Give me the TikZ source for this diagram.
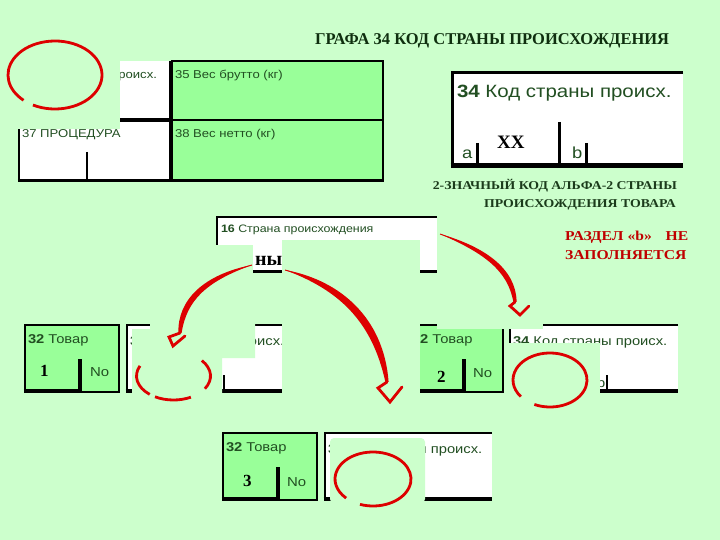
\documentclass[tikz,border=0pt]{standalone}
\usepackage{fontspec}
\setmainfont{Liberation Serif}
\newfontfamily\wsans[FakeStretch=1.15]{Liberation Sans}
\newfontfamily\wserif[FakeStretch=1.15]{Liberation Serif}
\usetikzlibrary{calc}
\definecolor{bggreen}{HTML}{CCFFCC}
\definecolor{boxgreen}{HTML}{99FF99}
\definecolor{boxtext}{HTML}{224F22}
\definecolor{titleink}{HTML}{0F2F0F}
\definecolor{capink}{HTML}{1B3B1B}
\definecolor{redtext}{HTML}{C00000}
\definecolor{arrowred}{HTML}{DD0000}
\newcommand{\pxs}[1]{\fontsize{#1}{#1}\selectfont}
\tikzset{
  lbl/.style={inner sep=0pt, outer sep=0pt, text=boxtext},
  lblS/.style={lbl, font=\wsans\pxs{11.4}},
  lblM/.style={lbl, font=\wsans\pxs{12.8}},
  lblL/.style={lbl, font=\wsans\pxs{17.8}},
  lblT/.style={lbl, font=\wsans\pxs{10.8}},
  digit/.style={inner sep=0pt, text=black, font=\bfseries\pxs{17}},
  nolbl/.style={lbl, font=\wsans\pxs{13}},
  cover/.style={fill=bggreen, draw=none},
  ellred/.style={draw=arrowred, line width=2.8pt},
  headred/.style={draw=arrowred, line width=2.8pt, line join=miter, line cap=round},
}
% small "34" box: name, x0, y0, width
\newcommand{\kodbox}[4]{%
  \fill[white] (#2,#3) rectangle ({#2+#4},{#3+67});
  \draw[line width=2.8pt] ({#2+#4},#3) -- (#2,#3) -- (#2,{#3+67});
  \draw[line width=4pt] ({#2-1.4},{#3+65.5}) -- ({#2+#4},{#3+65.5});
  \draw[line width=2.6pt] ({#2+17},{#3+50}) -- ({#2+17},{#3+66});
  \draw[line width=2.6pt] ({#2+77},{#3+35}) -- ({#2+77},{#3+66});
  \draw[line width=2.6pt] ({#2+97},{#3+50}) -- ({#2+97},{#3+66});
  \node[lblM, anchor=base west] (#1t) at ({#2+3},{#3+20}) {\textbf{34} Код страны происх.};
  \node[lblM, anchor=base west] (#1a) at ({#2+5},{#3+62}) {a};
  \node[lblM, anchor=base west] (#1b) at ({#2+87},{#3+62}) {b};
}
% green "32" box: name, x0, y0
\newcommand{\tovarbox}[3]{%
  \fill[boxgreen] (#2,#3) rectangle ({#2+94},{#3+67});
  \draw[line width=2.3pt] (#2,#3) rectangle ({#2+94},{#3+67});
  \draw[line width=3.6pt] ({#2-1.1},{#3+66}) -- ({#2+55},{#3+66});
  \draw[line width=3.3pt] ({#2+55},{#3+34}) -- ({#2+55},{#3+67.5});
  \node[lblM, anchor=base west] (#1t) at ({#2+3},{#3+18.3}) {\textbf{32} Товар};
}
% tapered red curve: S, C1, C2, E, w1, w2
\newcommand{\boltline}[6]{%
  \draw[arrowred, line width=0.9pt] (#1) .. controls (#2) and (#3) .. (#4);
  \fill[arrowred] (#1) .. controls ($(#2)!#5!90:(#1)$) and ($(#3)!#6!-90:(#4)$) .. ($(#4)!1.6pt!90:(#3)$)
     -- ($(#4)!1.6pt!-90:(#3)$) .. controls ($(#3)!#6!90:(#4)$) and ($(#2)!#5!-90:(#1)$) .. (#1) -- cycle;
}
\begin{document}
\begin{tikzpicture}[x=1pt,y=-1pt]
\useasboundingbox (0,0) rectangle (720,540);
\fill[bggreen] (0,0) rectangle (720,540);

% ---------- title ----------
\node[inner sep=0pt, anchor=base west, text=titleink, font=\bfseries\pxs{16.5}] (title) at (315,45)
  {ГРАФА 34 КОД СТРАНЫ ПРОИСХОЖДЕНИЯ};

% ---------- top-left form ----------
\fill[white] (19,61) rectangle (171,181);
\fill[boxgreen] (171,61) rectangle (383,181);
\draw[line width=2pt] (171,61) -- (383,61) -- (383,181);
\draw[line width=1.8pt] (171,120) -- (383,120);
\draw[line width=4.2pt] (19,120) -- (171,120);
\draw[line width=2.3pt] (19,61) -- (19,182);
\draw[line width=2pt] (87,152) -- (87,181);
\draw[line width=3.4pt] (17.85,180.5) -- (384,180.5);
\draw[line width=3.3pt] (171,61) -- (171,182);
\node[lblS, anchor=base east] (f34) at (157,79) {\textbf{34} Код страны происх.};
\node[lblS, anchor=base west] (f35) at (175,79) {35 Вес брутто (кг)};
\node[lblS, anchor=base west] (f37) at (22,138) {37 ПРОЦЕДУРА};
\node[lblS, anchor=base west] (f38) at (175,138) {38 Вес нетто (кг)};

% ---------- top-right box 34 ----------
\fill[white] (452,73) rectangle (683,167);
\draw[line width=3pt] (683,73) -- (452,73) -- (452,168);
\draw[line width=5pt] (450.5,166) -- (683,166);
\draw[line width=3pt] (477,143) -- (477,166) (559,122) -- (559,166) (586,143) -- (586,166);
\node[lblL, anchor=base west] (k34) at (457,98) {\textbf{34} Код страны происх.};
\node[lblL, anchor=base west, font=\wsans\pxs{16}] (ka) at (462,159) {a};
\node[lblL, anchor=base west, font=\wsans\pxs{16}] (kb) at (572,159) {b};
\node[inner sep=0pt, anchor=base west, font=\bfseries\pxs{19}] (xx) at (497,149) {XX};

% ---------- box 16 ----------
\fill[white] (217,217) rectangle (437,271);
\draw[line width=2.5pt] (437,217) -- (217,217) -- (217,271);
\draw[line width=3pt] (217,271) -- (437,271);
\node[lblT, anchor=base west] (t16) at (221,233) {\textbf{16} Страна происхождения};

% ---------- rows ----------
\tovarbox{b1}{25}{325}
\node[digit, anchor=base west] (d1) at (40,376.7) {1};
\node[nolbl, anchor=base west] (n1) at (90,376.7) {No};
\kodbox{k1}{127}{325}{168}

\tovarbox{b2}{409}{325}
\node[digit, anchor=base west] (d2) at (437,382.3) {2};
\node[nolbl, anchor=base west] (n2) at (473,377.3) {No};
\kodbox{k2}{510}{325}{168}

\tovarbox{b3}{223}{433}
\node[digit, anchor=base west] (d3) at (243,486) {3};
\node[nolbl, anchor=base west] (n3) at (287,486) {No};
\kodbox{k3}{325}{433}{167}

% ---------- covering patches ----------
\fill[cover] (0,30) rectangle (120,129.5);
\fill[cover] (213,245) rectangle (253,276);
\fill[cover] (282,240) rectangle (420,405);
\fill[cover] (150,318) -- (255,318) -- (255,358) -- (222,358) -- (222,400) -- (132,400) -- (132,329) -- (150,329) -- cycle;
\fill[cover] (437,318) rectangle (543,328.5);
\fill[cover] (505,343) rectangle (600,410);
\fill[cover, rounded corners=4pt] (330,438) rectangle (425,503);

% ---------- "ны" ----------
\node[inner sep=0pt, anchor=base west, font=\bfseries\pxs{20}] (ny) at (255,265) {ны};

% ---------- captions ----------
\node[inner sep=0pt, anchor=base east, text=capink, font=\wserif\bfseries\pxs{12}] (cap1) at (677,190)
  {2-ЗНАЧНЫЙ КОД АЛЬФА-2 СТРАНЫ};
\node[inner sep=0pt, anchor=base east, text=capink, font=\wserif\bfseries\pxs{12}] (cap2) at (676,207.7)
  {ПРОИСХОЖДЕНИЯ ТОВАРА};
\node[inner sep=0pt, anchor=base west, text=redtext, font=\wserif\bfseries\pxs{13.6}] (r1) at (565,240.7)
  {\makebox[123pt][l]{РАЗДЕЛ «b»\hfill НЕ}};
\node[inner sep=0pt, anchor=base west, text=redtext, font=\wserif\bfseries\pxs{13.6}] (r2) at (565,259)
  {ЗАПОЛНЯЕТСЯ};

% ---------- red ellipses ----------
\draw[ellred] (55,75) ++(242:47pt and 34pt) arc[start angle=242, end angle=588, x radius=47pt, y radius=34pt];
\draw[ellred] (173.5,376) ++(155:37pt and 24pt) arc[start angle=155, end angle=230, x radius=37pt, y radius=24pt];
\draw[ellred] (173.5,376) ++(240:37pt and 24pt) arc[start angle=240, end angle=298, x radius=37pt, y radius=24pt];
\draw[ellred] (173.5,376) ++(-32:37pt and 24pt) arc[start angle=-32, end angle=40, x radius=37pt, y radius=24pt];
\draw[ellred] (550,380) ++(245:37pt and 27pt) arc[start angle=245, end angle=578, x radius=37pt, y radius=27pt];
\draw[ellred] (373,479) ++(250:38pt and 27pt) arc[start angle=250, end angle=585, x radius=38pt, y radius=27pt];

% ---------- red arrows ----------
\coordinate (a1s) at (440,234); \coordinate (a1c) at (485,250); \coordinate (a1d) at (512,270); \coordinate (a1e) at (515,302);
\coordinate (a1j) at (510,306); \coordinate (a1t) at (520,315); \coordinate (a1r) at (529,306);
\boltline{a1s}{a1c}{a1d}{a1e}{3.2pt}{4.2pt}
\draw[headred] (a1e) -- (a1j) -- (a1t) -- (a1r);

\coordinate (a2s) at (252,265); \coordinate (a2c) at (205,278); \coordinate (a2d) at (182,300); \coordinate (a2e) at (180,333);
\coordinate (a2j) at (169,337); \coordinate (a2t) at (173,346); \coordinate (a2r) at (185,336);
\boltline{a2s}{a2c}{a2d}{a2e}{3.8pt}{4.6pt}
\draw[headred] (a2e) -- (a2j) -- (a2t) -- (a2r);

\coordinate (a3s) at (285,270); \coordinate (a3c) at (340,285); \coordinate (a3d) at (378,320); \coordinate (a3e) at (387,382);
\coordinate (a3j) at (378,388); \coordinate (a3t) at (390,402); \coordinate (a3r) at (402,387);
\boltline{a3s}{a3c}{a3d}{a3e}{5pt}{6pt}
\draw[headred] (a3e) -- (a3j) -- (a3t) -- (a3r);
\end{tikzpicture}
\end{document}
